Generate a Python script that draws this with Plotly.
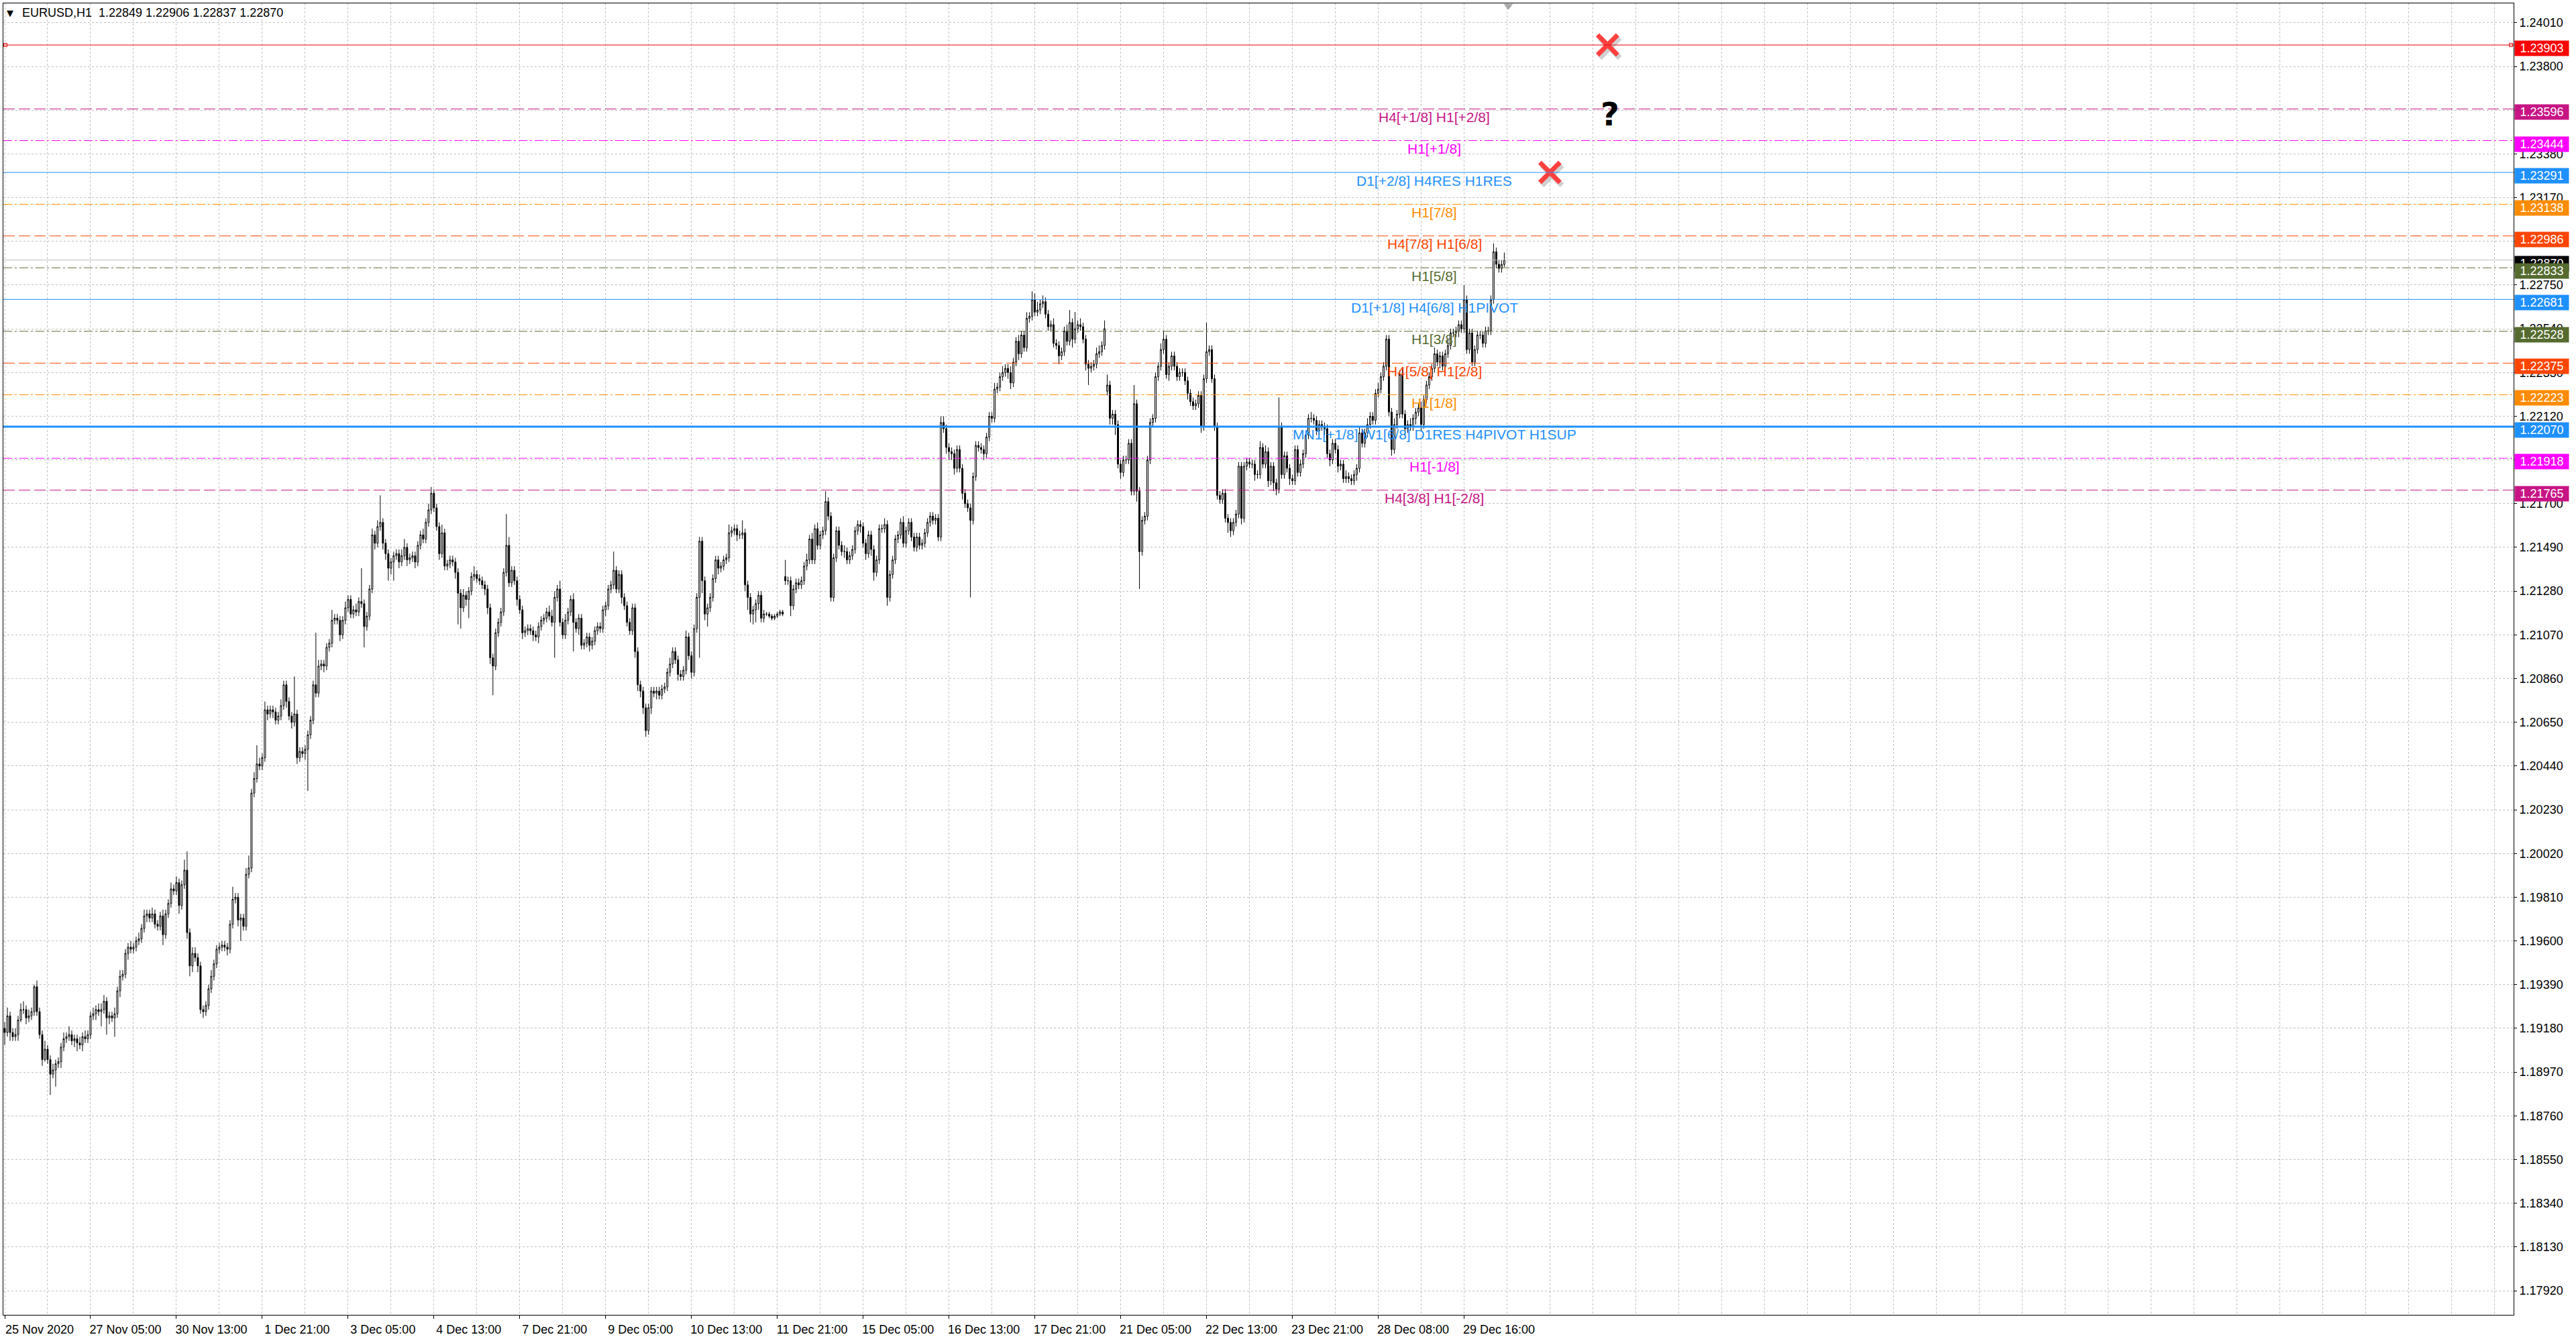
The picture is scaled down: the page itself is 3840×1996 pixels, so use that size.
import plotly.graph_objects as go

# EURUSD H1, 25 Nov 2020 21:00 .. 30 Dec 2020 07:00 (bar index on x, weekends removed)
symbol = "EURUSD,H1"
first_open = 1.1918

close = [
    1.1916, 1.1924, 1.1916, 1.1914, 1.1915, 1.1922, 1.1927, 1.1927, 1.1923, 1.1924, 1.1926, 1.1938, 1.1926, 1.1915, 1.1903, 1.1908, 1.1903, 1.1896, 1.1898, 1.1901,
    1.1902, 1.1909, 1.1913, 1.1914, 1.1915, 1.1912, 1.1913, 1.1911, 1.1910, 1.1914, 1.1913, 1.1915, 1.1924, 1.1925, 1.1927, 1.1926, 1.1927, 1.1931, 1.1923, 1.1924,
    1.1923, 1.1925, 1.1936, 1.1943, 1.1944, 1.1954, 1.1957, 1.1956, 1.1957, 1.1960, 1.1961, 1.1966, 1.1972, 1.1973, 1.1971, 1.1973, 1.1968, 1.1967, 1.1972, 1.1963,
    1.1973, 1.1978, 1.1985, 1.1984, 1.1988, 1.1977, 1.1987, 1.1994, 1.1964, 1.1948, 1.1954, 1.1952, 1.1948, 1.1927, 1.1926, 1.1929, 1.1937, 1.1943, 1.1949, 1.1956,
    1.1957, 1.1958, 1.1957, 1.1956, 1.1968, 1.1980, 1.1981, 1.1970, 1.1971, 1.1967, 1.1992, 1.1995, 1.2031, 1.2038, 1.2045, 1.2044, 1.2048, 1.2071, 1.2069, 1.2071,
    1.2070, 1.2066, 1.2068, 1.2073, 1.2083, 1.2075, 1.2068, 1.2065, 1.2069, 1.2048, 1.2051, 1.2050, 1.2052, 1.2059, 1.2066, 1.2083, 1.2079, 1.2092, 1.2093, 1.2092,
    1.2101, 1.2103, 1.2114, 1.2115, 1.2114, 1.2107, 1.2114, 1.2120, 1.2124, 1.2117, 1.2119, 1.2118, 1.2123, 1.2122, 1.2111, 1.2116, 1.2129, 1.2155, 1.2151, 1.2159,
    1.2161, 1.2151, 1.2146, 1.2139, 1.2142, 1.2145, 1.2146, 1.2142, 1.2145, 1.2149, 1.2143, 1.2144, 1.2145, 1.2142, 1.2150, 1.2155, 1.2153, 1.2161, 1.2167, 1.2175,
    1.2168, 1.2159, 1.2146, 1.2156, 1.2140, 1.2141, 1.2143, 1.2142, 1.2137, 1.2127, 1.2120, 1.2126, 1.2124, 1.2128, 1.2135, 1.2136, 1.2134, 1.2133, 1.2131, 1.2129,
    1.2120, 1.2096, 1.2092, 1.2108, 1.2113, 1.2118, 1.2137, 1.2150, 1.2132, 1.2138, 1.2133, 1.2124, 1.2119, 1.2108, 1.2109, 1.2110, 1.2109, 1.2107, 1.2106, 1.2111,
    1.2114, 1.2115, 1.2118, 1.2116, 1.2113, 1.2125, 1.2129, 1.2113, 1.2107, 1.2114, 1.2118, 1.2124, 1.2113, 1.2110, 1.2115, 1.2102, 1.2103, 1.2106, 1.2102, 1.2104,
    1.2109, 1.2111, 1.2110, 1.2119, 1.2121, 1.2129, 1.2131, 1.2138, 1.2129, 1.2136, 1.2125, 1.2121, 1.2113, 1.2109, 1.2120, 1.2099, 1.2083, 1.2080, 1.2072, 1.2061,
    1.2072, 1.2080, 1.2079, 1.2080, 1.2078, 1.2081, 1.2082, 1.2089, 1.2093, 1.2099, 1.2095, 1.2088, 1.2087, 1.2090, 1.2106, 1.2097, 1.2089, 1.2110, 1.2125, 1.2152,
    1.2133, 1.2117, 1.2120, 1.2125, 1.2134, 1.2143, 1.2139, 1.2140, 1.2143, 1.2144, 1.2156, 1.2157, 1.2158, 1.2155, 1.2155, 1.2156, 1.2131, 1.2125, 1.2117, 1.2119,
    1.2122, 1.2126, 1.2115, 1.2117, 1.2117, 1.2116, 1.2115, 1.2116, 1.2117, 1.2118, 1.2117, 1.2133, 1.2133, 1.2121, 1.2129, 1.2132, 1.2131, 1.2133, 1.2140, 1.2143,
    1.2153, 1.2143, 1.2158, 1.2150, 1.2155, 1.2157, 1.2171, 1.2164, 1.2125, 1.2144, 1.2157, 1.2150, 1.2147, 1.2147, 1.2143, 1.2145, 1.2148, 1.2157, 1.2160, 1.2159,
    1.2151, 1.2146, 1.2155, 1.2148, 1.2137, 1.2143, 1.2158, 1.2158, 1.2160, 1.2125, 1.2136, 1.2143, 1.2153, 1.2155, 1.2161, 1.2151, 1.2157, 1.2161, 1.2154, 1.2149,
    1.2154, 1.2150, 1.2151, 1.2156, 1.2161, 1.2164, 1.2162, 1.2163, 1.2154, 1.2209, 1.2206, 1.2197, 1.2195, 1.2194, 1.2187, 1.2196, 1.2187, 1.2175, 1.2170, 1.2168,
    1.2162, 1.2183, 1.2198, 1.2197, 1.2196, 1.2194, 1.2202, 1.2212, 1.2211, 1.2225, 1.2226, 1.2231, 1.2233, 1.2235, 1.2233, 1.2228, 1.2238, 1.2248, 1.2242, 1.2251,
    1.2245, 1.2259, 1.2260, 1.2268, 1.2262, 1.2263, 1.2266, 1.2267, 1.2261, 1.2255, 1.2256, 1.2247, 1.2246, 1.2241, 1.2243, 1.2253, 1.2248, 1.2257, 1.2249, 1.2254,
    1.2256, 1.2255, 1.2249, 1.2237, 1.2235, 1.2236, 1.2237, 1.2242, 1.2243, 1.2246, 1.2254, 1.2227, 1.2211, 1.2213, 1.2208, 1.2189, 1.2185, 1.2191, 1.2191, 1.2199,
    1.2176, 1.2218, 1.2176, 1.2147, 1.2162, 1.2164, 1.2191, 1.2209, 1.2211, 1.2231, 1.2236, 1.2244, 1.2249, 1.2232, 1.2236, 1.2241, 1.2236, 1.2231, 1.2233, 1.2233,
    1.2229, 1.2223, 1.2219, 1.2217, 1.2218, 1.2222, 1.2207, 1.2230, 1.2243, 1.2244, 1.2230, 1.2207, 1.2174, 1.2172, 1.2175, 1.2163, 1.2161, 1.2157, 1.2161, 1.2165,
    1.2188, 1.2163, 1.2188, 1.2190, 1.2189, 1.2189, 1.2184, 1.2184, 1.2197, 1.2189, 1.2195, 1.2181, 1.2188, 1.2180, 1.2177, 1.2207, 1.2184, 1.2193, 1.2187, 1.2182,
    1.2181, 1.2196, 1.2185, 1.2189, 1.2194, 1.2203, 1.2211, 1.2211, 1.2210, 1.2205, 1.2208, 1.2207, 1.2206, 1.2194, 1.2191, 1.2199, 1.2196, 1.2188, 1.2189, 1.2182,
    1.2183, 1.2182, 1.2181, 1.2184, 1.2187, 1.2204, 1.2199, 1.2204, 1.2208, 1.2212, 1.2210, 1.2223, 1.2225, 1.2231, 1.2236, 1.2249, 1.2214, 1.2196, 1.2208, 1.2213,
    1.2232, 1.2213, 1.2206, 1.2208, 1.2207, 1.2211, 1.2214, 1.2216, 1.2208, 1.2220, 1.2227, 1.2231, 1.2235, 1.2242, 1.2238, 1.2241, 1.2236, 1.2242, 1.2246, 1.2252,
    1.2252, 1.2253, 1.2256, 1.2254, 1.2268, 1.2244, 1.2252, 1.2238, 1.2244, 1.2251, 1.2251, 1.2247, 1.2253, 1.2253, 1.2268, 1.2291, 1.2285, 1.2283, 1.22849, 1.22870,
]

# upper / lower shadow beyond the body, in pips
wick_up = [
    3, 4, 2, 2, 3, 2, 3, 4, 2, 3, 2, 1, 3, 2, 2, 4, 2, 2, 3, 2,
    2, 2, 3, 2, 4, 2, 2, 2, 3, 2, 3, 2, 2, 3, 2, 3, 3, 3, 2, 2,
    2, 3, 2, 3, 2, 2, 2, 3, 2, 2, 3, 2, 3, 2, 2, 3, 2, 2, 2, 3,
    2, 2, 3, 2, 3, 2, 2, 5, 9, 2, 3, 3, 2, 2, 2, 2, 2, 3, 2, 2,
    2, 2, 2, 2, 2, 6, 2, 2, 2, 2, 3, 6, 2, 3, 9, 3, 2, 4, 2, 2,
    2, 2, 2, 3, 2, 2, 2, 2, 18, 2, 2, 2, 2, 2, 2, 2, 25, 3, 2, 2,
    2, 2, 5, 2, 2, 2, 2, 3, 2, 2, 2, 3, 2, 16, 2, 2, 2, 3, 2, 3,
    13, 2, 2, 2, 2, 2, 2, 2, 3, 4, 2, 2, 2, 2, 2, 2, 3, 2, 3, 3,
    2, 2, 2, 4, 2, 2, 2, 2, 2, 2, 2, 3, 2, 2, 2, 4, 2, 2, 2, 2,
    2, 2, 2, 2, 2, 2, 2, 15, 4, 2, 2, 2, 2, 2, 2, 2, 2, 2, 2, 2,
    2, 2, 2, 3, 3, 3, 2, 4, 2, 3, 2, 2, 3, 2, 2, 2, 2, 2, 2, 2,
    2, 2, 2, 2, 2, 2, 2, 9, 2, 2, 2, 2, 2, 2, 2, 2, 2, 2, 2, 2,
    2, 2, 2, 2, 2, 2, 2, 2, 3, 2, 2, 2, 2, 2, 3, 2, 2, 2, 2, 2,
    2, 2, 2, 2, 2, 2, 2, 2, 2, 2, 4, 2, 2, 2, 2, 6, 2, 2, 2, 2,
    2, 2, 2, 2, 1, 1, 1, 1, 1, 1, 1, 8, 2, 2, 2, 2, 2, 2, 2, 3,
    2, 3, 2, 3, 2, 2, 5, 2, 2, 2, 2, 2, 2, 3, 2, 2, 2, 2, 2, 2,
    2, 2, 2, 2, 2, 2, 2, 2, 3, 2, 2, 2, 2, 2, 2, 3, 2, 2, 2, 2,
    2, 2, 2, 2, 2, 2, 2, 2, 2, 3, 3, 2, 2, 2, 2, 2, 2, 2, 2, 2,
    2, 2, 2, 2, 2, 2, 2, 2, 2, 3, 2, 2, 3, 2, 2, 3, 2, 2, 3, 2,
    2, 3, 2, 4, 3, 4, 2, 3, 2, 2, 2, 3, 2, 2, 2, 2, 3, 6, 2, 8,
    2, 3, 2, 2, 2, 2, 2, 3, 3, 2, 4, 5, 2, 2, 2, 2, 2, 2, 2, 2,
    2, 9, 2, 2, 2, 2, 2, 2, 2, 2, 2, 3, 4, 2, 2, 2, 2, 2, 2, 2,
    2, 2, 2, 2, 2, 2, 2, 2, 14, 2, 2, 2, 2, 2, 2, 2, 2, 2, 2, 2,
    2, 2, 2, 2, 2, 2, 2, 2, 3, 2, 3, 2, 2, 2, 2, 14, 2, 2, 2, 2,
    2, 2, 2, 2, 2, 2, 2, 3, 2, 2, 2, 2, 2, 2, 2, 2, 2, 2, 2, 2,
    3, 2, 2, 2, 2, 3, 2, 2, 3, 2, 2, 2, 3, 2, 2, 2, 2, 2, 3, 2,
    2, 3, 2, 2, 3, 2, 2, 2, 3, 2, 2, 2, 2, 3, 2, 2, 2, 2, 3, 2,
    2, 2, 2, 2, 7, 2, 2, 2, 2, 2, 2, 2, 2, 2, 2, 4, 2, 2, 2, 3.6,
]
wick_dn = [
    6, 2, 4, 2, 2, 3, 1, 2, 3, 2, 2, 2, 2, 2, 3, 1, 2, 10, 2, 8,
    2, 3, 2, 2, 2, 2, 3, 4, 2, 3, 2, 2, 2, 2, 3, 2, 7, 2, 8, 3,
    2, 9, 2, 3, 2, 2, 3, 2, 2, 2, 2, 2, 2, 3, 2, 2, 2, 2, 2, 5,
    2, 2, 2, 2, 2, 4, 2, 2, 3, 5, 3, 2, 3, 2, 3, 2, 2, 2, 2, 2,
    2, 2, 2, 3, 2, 2, 2, 3, 10, 2, 2, 2, 2, 2, 2, 2, 2, 2, 3, 2,
    3, 2, 2, 2, 2, 3, 2, 3, 2, 3, 2, 2, 3, 20, 2, 2, 2, 2, 2, 3,
    2, 2, 2, 2, 2, 3, 2, 2, 2, 2, 2, 2, 2, 2, 10, 2, 2, 2, 3, 2,
    2, 3, 3, 6, 3, 9, 2, 3, 2, 2, 3, 2, 2, 3, 2, 2, 2, 2, 2, 2,
    2, 2, 3, 2, 2, 2, 2, 2, 3, 15, 10, 2, 3, 9, 2, 2, 2, 2, 2, 3,
    3, 3, 14, 2, 2, 2, 2, 2, 2, 2, 2, 3, 2, 3, 2, 2, 2, 3, 2, 3,
    2, 2, 2, 2, 2, 17, 2, 2, 2, 2, 2, 2, 14, 2, 3, 2, 2, 2, 3, 2,
    2, 2, 2, 2, 3, 2, 2, 2, 2, 2, 3, 2, 2, 2, 2, 3, 3, 3, 3, 3,
    2, 3, 2, 3, 2, 2, 2, 2, 2, 2, 2, 3, 2, 2, 2, 2, 3, 2, 2, 29,
    6, 3, 6, 2, 2, 2, 3, 2, 2, 2, 2, 2, 2, 3, 2, 2, 3, 6, 4, 5,
    6, 3, 2, 2, 1, 1, 1, 1, 1, 1, 1, 2, 2, 5, 2, 2, 2, 2, 2, 2,
    2, 2, 2, 2, 2, 2, 2, 2, 2, 2, 2, 2, 2, 3, 2, 2, 2, 2, 2, 3,
    2, 3, 2, 3, 4, 2, 2, 2, 2, 4, 2, 2, 2, 2, 2, 2, 2, 2, 2, 2,
    2, 2, 2, 2, 2, 2, 2, 2, 2, 2, 2, 3, 4, 3, 3, 2, 2, 3, 2, 2,
    37, 2, 2, 2, 2, 3, 2, 2, 2, 2, 2, 2, 2, 2, 3, 3, 2, 2, 3, 2,
    2, 2, 2, 2, 2, 2, 2, 2, 2, 2, 2, 2, 2, 4, 2, 2, 2, 2, 4, 2,
    2, 2, 2, 3, 8, 2, 2, 2, 2, 2, 2, 2, 3, 3, 5, 2, 3, 2, 2, 2,
    2, 2, 5, 18, 2, 2, 2, 2, 2, 2, 2, 2, 2, 2, 3, 2, 2, 2, 2, 2,
    2, 3, 2, 2, 2, 2, 3, 2, 2, 2, 2, 2, 2, 2, 2, 2, 5, 3, 2, 2,
    2, 3, 2, 2, 2, 2, 3, 2, 2, 2, 2, 3, 2, 4, 3, 2, 2, 2, 2, 3,
    2, 2, 2, 2, 2, 2, 2, 2, 2, 2, 2, 2, 3, 2, 3, 2, 2, 3, 2, 2,
    2, 2, 2, 2, 3, 2, 2, 2, 2, 2, 2, 2, 2, 2, 2, 2, 2, 3, 2, 2,
    2, 2, 3, 2, 2, 2, 3, 2, 3, 2, 2, 2, 2, 2, 2, 3, 2, 2, 2, 2,
    2, 2, 3, 2, 2, 2, 2, 2, 2, 2, 2, 2, 2, 2, 2, 2, 2, 2, 2, 1.2,
]

# Monday opens that gap away from Friday's close
gap_bars = [291, 411]
gap_opens = [1.2135, 1.2224]

tick_bars = [0, 32, 64, 96, 128, 160, 192, 224, 256, 288, 320, 352, 384, 416, 448, 480, 512, 544]
tick_labels = ["25 Nov 2020", "27 Nov 05:00", "30 Nov 13:00", "1 Dec 21:00", "3 Dec 05:00",
               "4 Dec 13:00", "7 Dec 21:00", "9 Dec 05:00", "10 Dec 13:00", "11 Dec 21:00",
               "15 Dec 05:00", "16 Dec 13:00", "17 Dec 21:00", "21 Dec 05:00", "22 Dec 13:00",
               "23 Dec 21:00", "28 Dec 08:00", "29 Dec 16:00"]

level_prices = [1.23903, 1.23596, 1.23444, 1.23291, 1.23138, 1.22986, 1.22833,
                1.22681, 1.22528, 1.22375, 1.22223, 1.22070, 1.21918, 1.21765]
level_labels = ["", "H4[+1/8] H1[+2/8]", "H1[+1/8]", "D1[+2/8] H4RES H1RES", "H1[7/8]",
                "H4[7/8] H1[6/8]", "H1[5/8]", "D1[+1/8] H4[6/8] H1PIVOT", "H1[3/8]",
                "H4[5/8] H1[2/8]", "H1[1/8]", "MN1[+1/8] W1[6/8] D1RES H4PIVOT H1SUP",
                "H1[-1/8]", "H4[3/8] H1[-2/8]"]
level_colors = ["#FF0000", "#C71585", "#FF00FF", "#1E90FF", "#FF8C00", "#FF4500", "#556B2F",
                "#1E90FF", "#556B2F", "#FF4500", "#FF8C00", "#1E90FF", "#FF00FF", "#C71585"]

DASH = "17px,6px"
DASHDOT = "13px,4px,3px,4px"
level_dash = ["solid", DASH, DASHDOT, "solid", DASHDOT, DASH, DASHDOT,
              "solid", DASHDOT, DASH, DASHDOT, "solid", DASHDOT, DASH]
level_width = [1, 1, 1, 1, 1, 1, 1, 1, 1, 1, 1, 3, 1, 1]

cross_bars = [597.5, 576]
cross_prices = [1.23903, 1.23291]
question_bar = 598.5
question_price = 1.2357
label_bar = 533

# ---------------------------------------------------------------------------
n = len(close)
bars = list(range(n))
opens = [first_open] + close[:-1]
for b, o in zip(gap_bars, gap_opens):
    opens[b] = o
highs = [max(o, c) + u / 10000 for o, c, u in zip(opens, close, wick_up)]
lows = [min(o, c) - d / 10000 for o, c, d in zip(opens, close, wick_dn)]

x_range = [-0.5, 935.25]
y_range = [1.17804, 1.24103]
AXFONT = dict(family="Liberation Sans", size=18, color="black")

fig = go.Figure()
fig.add_trace(go.Candlestick(
    x=bars, open=opens, high=highs, low=lows, close=close,
    increasing=dict(line=dict(color="black", width=1), fillcolor="white"),
    decreasing=dict(line=dict(color="black", width=1), fillcolor="black"),
    whiskerwidth=0, hoverinfo="skip", showlegend=False,
))

# level lines
for p, col, dash, w in zip(level_prices, level_colors, level_dash, level_width):
    lc = "#E00000" if col == "#FF0000" else col
    fig.add_shape(type="line", xref="paper", x0=0, x1=1, yref="y", y0=p, y1=p,
                  line=dict(color=lc, width=w, dash=dash))
# current price line
fig.add_shape(type="line", xref="paper", x0=0, x1=1, yref="y", y0=close[-1], y1=close[-1],
              line=dict(color="#C0C0C0", width=1))

# end squares of the selected red line
fig.add_trace(go.Scatter(
    x=[x_range[0] + 0.75, x_range[1] - 1], y=[level_prices[0]] * 2, mode="markers",
    marker=dict(symbol="square", size=5, color="white", line=dict(color="#E00000", width=1)),
    hoverinfo="skip", showlegend=False, cliponaxis=False))

# red crosses with a soft shadow
fig.add_trace(go.Scatter(
    x=[b + 0.8 for b in cross_bars], y=[p - 0.00014 for p in cross_prices], mode="markers",
    marker=dict(symbol="x-thin", size=30, line=dict(width=8, color="rgba(120,120,120,0.35)")),
    hoverinfo="skip", showlegend=False))
fig.add_trace(go.Scatter(
    x=cross_bars, y=cross_prices, mode="markers",
    marker=dict(symbol="x-thin", size=30, line=dict(width=7, color="#FF4040")),
    hoverinfo="skip", showlegend=False))

# chart-shift marker at top
fig.add_trace(go.Scatter(
    x=[n + 0.5], y=[y_range[1] - 0.00012], mode="markers",
    marker=dict(symbol="triangle-down", size=12, color="#A8A8A8"),
    hoverinfo="skip", showlegend=False, cliponaxis=False))

ann = []
# level texts
for p, txt, col in zip(level_prices, level_labels, level_colors):
    if txt:
        ann.append(dict(x=label_bar, y=p, xref="x", yref="y", text=txt, showarrow=False,
                        xanchor="center", yanchor="middle", yshift=-12,
                        font=dict(family="Liberation Sans", size=21, color=col)))
# price boxes on the right scale
ann.append(dict(x=1, y=close[-1], xref="paper", yref="y", text=f"{close[-1]:.5f}",
                showarrow=False, xanchor="left", yanchor="middle", xshift=1, yshift=-5,
                width=74, height=16, borderpad=3, align="center", valign="middle",
                bgcolor="black", font=dict(family="Liberation Sans", size=18, color="white")))
for p, col in zip(level_prices, level_colors):
    ann.append(dict(x=1, y=p, xref="paper", yref="y", text=f"{p:.5f}",
                    showarrow=False, xanchor="left", yanchor="middle", xshift=1, yshift=-5,
                    width=74, height=16, borderpad=3, align="center", valign="middle",
                    bgcolor=col, font=dict(family="Liberation Sans", size=18, color="white")))
# question mark
ann.append(dict(x=question_bar, y=question_price, xref="x", yref="y", text="<b>?</b>",
                showarrow=False, font=dict(family="DejaVu Sans", size=48, color="black")))
# header
o, h, l, c = opens[-1], highs[-1], lows[-1], close[-1]
ann.append(dict(x=0, y=1, xref="paper", yref="paper", text="▼", showarrow=False,
                xanchor="center", yanchor="middle", xshift=10, yshift=-14,
                font=dict(family="DejaVu Sans", size=13, color="black")))
ann.append(dict(x=0, y=1, xref="paper", yref="paper",
                text=f"{symbol}\u00a0\u00a0{o:.5f} {h:.5f} {l:.5f} {c:.5f}",
                showarrow=False, xanchor="left", yanchor="middle", xshift=26, yshift=-14,
                font=AXFONT))

grid = dict(gridcolor="#C0C0C0", gridwidth=1, griddash="3px,3px")

fig.update_layout(
    width=3840, height=1996, autosize=False,
    margin=dict(l=4, r=93, t=4, b=35, pad=0),
    paper_bgcolor="white", plot_bgcolor="white",
    hovermode=False, showlegend=False,
    annotations=ann,
    xaxis=dict(
        range=x_range, type="linear", rangeslider=dict(visible=False),
        tickmode="array", tickvals=tick_bars, ticktext=tick_labels,
        ticks="outside", ticklen=5, tickcolor="black", tickfont=AXFONT,
        ticklabelshift=52,
        showline=True, mirror=True, linecolor="black", linewidth=1,
        showgrid=True, zeroline=False, **grid,
        minor=dict(tickmode="array", tickvals=list(range(16, 936, 32)), ticks="",
                   showgrid=True, **grid),
    ),
    yaxis=dict(
        range=y_range, side="right", tick0=1.17920, dtick=0.0021, tickformat=".5f",
        ticks="outside", ticklen=4, tickcolor="black", tickfont=AXFONT,
        showline=True, mirror=True, linecolor="black", linewidth=1,
        showgrid=True, zeroline=False, **grid,
    ),
)

# vertical grid also on the empty right part (no labels there)
fig.update_xaxes(minor_tickvals=[v for v in range(16, 936, 16) if v not in tick_bars])

fig.write_html("out.html", config={"displayModeBar": False},
               post_script="document.body.style.margin='0';document.body.style.overflow='hidden';")
